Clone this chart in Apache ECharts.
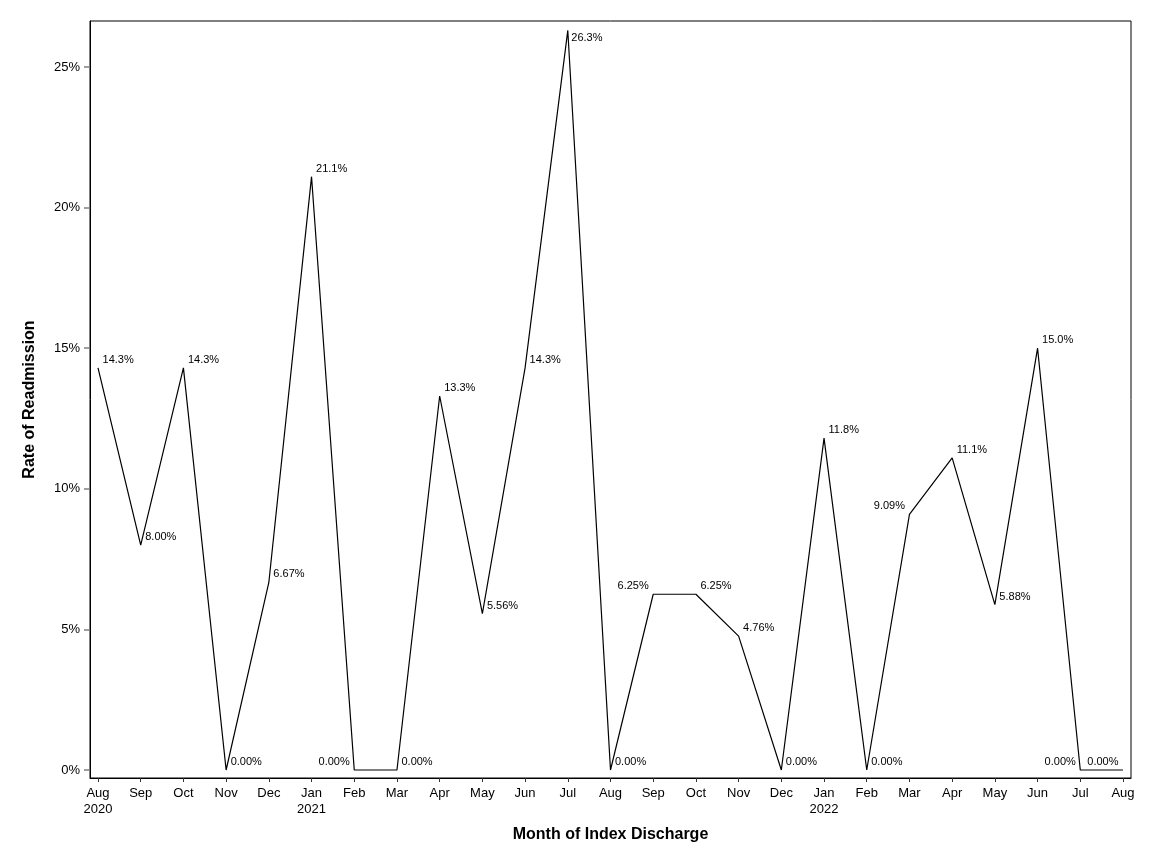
<!DOCTYPE html>
<html>
<head>
<meta charset="utf-8">
<script src="https://cdn.jsdelivr.net/npm/echarts@6/dist/echarts.min.js"></script>
<style>
  html, body { margin: 0; padding: 0; background: #fff; }
  #chart { width: 1152px; height: 864px; }
</style>
</head>
<body>
<div id="chart"></div>
<script>
// Month of index discharge, Aug 2020 .. Aug 2022
var months = ['Aug\n2020', 'Sep', 'Oct', 'Nov', 'Dec', 'Jan\n2021', 'Feb', 'Mar', 'Apr', 'May', 'Jun', 'Jul',
    'Aug', 'Sep', 'Oct', 'Nov', 'Dec', 'Jan\n2022', 'Feb', 'Mar', 'Apr', 'May', 'Jun', 'Jul', 'Aug'];

// Rate of readmission (%)
var rates = [14.3, 8.00, 14.3, 0.00, 6.67, 21.1, 0.00, 0.00, 13.3, 5.56, 14.3, 26.3,
    0.00, 6.25, 6.25, 4.76, 0.00, 11.8, 0.00, 9.09, 11.1, 5.88, 15.0, 0.00, 0.00];

var yTicks = [0, 5, 10, 15, 20, 25];

// points whose label sits to the left of the point
var leftLabels = [6, 13, 19, 23, 24];

var fontFamily = 'Liberation Sans, Arial, sans-serif';

var chart = echarts.init(document.getElementById('chart'));

var seriesData = rates.map(function (v, i) {
    var item = { value: [i, v] };
    if (leftLabels.indexOf(i) >= 0) {
        item.label = { position: 'left', distance: 4, offset: [0, -8] };
    } else if (i === 11) {
        item.label = { position: 'right', distance: 3, offset: [0, 8] };
    }
    return item;
});

var option = {
    animation: false,
    grid: {
        left: 90,
        right: 21,
        top: 21,
        bottom: 86,
        show: true,
        borderColor: '#000',
        borderWidth: 1
    },
    xAxis: {
        type: 'value',
        min: -0.1875,
        max: 24.1875,
        name: 'Month of Index Discharge',
        nameLocation: 'middle',
        nameGap: 49,
        nameTextStyle: { fontFamily: fontFamily, fontSize: 16, fontWeight: 'bold', color: '#000' },
        splitLine: { show: false },
        axisLine: { show: true, onZero: false, lineStyle: { color: '#000', width: 1 } },
        axisTick: {
            show: true,
            length: 4,
            customValues: months.map(function (m, i) { return i; }),
            lineStyle: { color: '#333' }
        },
        axisLabel: {
            customValues: months.map(function (m, i) { return i; }),
            margin: 7,
            fontFamily: fontFamily,
            fontSize: 13,
            lineHeight: 16,
            color: '#000',
            formatter: function (v) { return months[Math.round(v)]; }
        }
    },
    yAxis: {
        type: 'value',
        min: -0.2845,
        max: 26.636,
        name: 'Rate of Readmission',
        nameLocation: 'middle',
        nameGap: 52,
        nameRotate: 90,
        nameTextStyle: { fontFamily: fontFamily, fontSize: 16, fontWeight: 'bold', color: '#000' },
        splitLine: { show: false },
        axisLine: { show: true, onZero: false, lineStyle: { color: '#000', width: 1 } },
        axisTick: {
            show: true,
            length: 6,
            customValues: yTicks,
            lineStyle: { color: '#808080', width: 1.5 }
        },
        axisLabel: {
            customValues: yTicks,
            margin: 10,
            fontFamily: fontFamily,
            fontSize: 13,
            color: '#000',
            formatter: function (v) { return v + '%'; }
        }
    },
    series: [{
        type: 'line',
        data: seriesData,
        symbol: 'circle',
        symbolSize: 1,
        showSymbol: true,
        itemStyle: { color: 'rgba(0,0,0,0)' },
        lineStyle: { color: '#000', width: 1.2 },
        label: {
            show: true,
            position: 'right',
            distance: 4,
            offset: [0, -8],
            fontFamily: fontFamily,
            fontSize: 11,
            color: '#000',
            formatter: function (p) { return p.value[1].toPrecision(3) + '%'; }
        },
        emphasis: { disabled: true }
    }]
};

chart.setOption(option);
</script>
</body>
</html>
